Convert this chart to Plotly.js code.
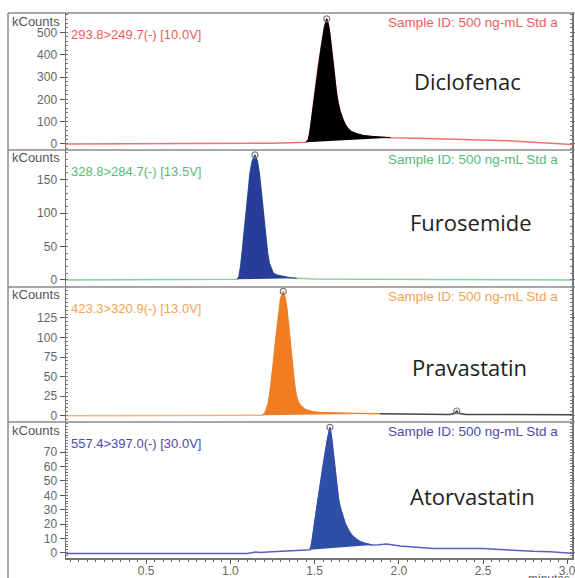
<!DOCTYPE html>
<html>
<head>
<meta charset="utf-8">
<script src="https://cdn.plot.ly/plotly-3.0.1.min.js"></script>
<style>html,body{margin:0;padding:0;background:#fff;}#chart{width:575px;height:578px;}</style>
</head>
<body>
<div id="chart"></div>
<script>
// ---------- DATA ----------
const compounds = ["Diclofenac", "Furosemide", "Pravastatin", "Atorvastatin"];
const transitions = ["293.8>249.7(-) [10.0V]", "328.8>284.7(-) [13.5V]", "423.3>320.9(-) [13.0V]", "557.4>397.0(-) [30.0V]"];
const sampleLabel = "Sample ID: 500 ng-mL Std a";
const yTicks1 = [0, 100, 200, 300, 400, 500];
const yTicks2 = [0, 50, 100, 150];
const yTicks3 = [0, 25, 50, 75, 100, 125];
const yTicks4 = [0, 10, 20, 30, 40, 50, 60, 70];
const xTicks = [0.5, 1.0, 1.5, 2.0, 2.5, 3.0];

// Diclofenac (kCounts vs minutes)
const t1 = [0.02, 0.3, 0.6, 0.9, 1.1, 1.25, 1.35, 1.42, 1.45, 1.462, 1.47, 1.483, 1.495, 1.506, 1.52, 1.536, 1.548, 1.558, 1.572, 1.582, 1.591, 1.601, 1.611, 1.621, 1.631, 1.641, 1.651, 1.666, 1.681, 1.70, 1.72, 1.75, 1.79, 1.84, 1.9, 1.95, 2.05, 2.2, 2.35, 2.5, 2.65, 2.8, 2.95, 3.05];
const s1 = [0, 0, 0, 0, 1, 3, 5, 7, 8, 20, 45, 118, 195, 269, 345, 419, 475, 523, 561, 535, 494, 420, 343, 280, 224, 182, 149, 115, 89, 68, 55, 46, 38, 34, 31, 28, 27, 24, 22, 18, 14, 8, 2, -3];
// Furosemide
const t2 = [0.02, 0.3, 0.6, 0.9, 1.0, 1.04, 1.051, 1.061, 1.069, 1.077, 1.087, 1.097, 1.107, 1.116, 1.13, 1.146, 1.16, 1.172, 1.182, 1.192, 1.202, 1.211, 1.221, 1.231, 1.243, 1.255, 1.28, 1.314, 1.35, 1.394, 1.5, 1.8, 2.1, 2.4, 2.7, 3.05];
const s2 = [0, 0, 0, 0, 0.5, 1, 5, 20, 38, 60, 85, 110, 135, 159, 178, 187, 178, 159, 135, 110, 84, 60, 40, 25, 16, 10, 7, 5, 3.5, 2.5, 1.5, 1, 1, 0.5, 0, 0];
// Pravastatin
const t3 = [0.02, 0.3, 0.6, 0.9, 1.1, 1.19, 1.205, 1.215, 1.225, 1.235, 1.245, 1.255, 1.265, 1.275, 1.285, 1.298, 1.314, 1.326, 1.336, 1.345, 1.354, 1.362, 1.369, 1.38, 1.39, 1.40, 1.413, 1.443, 1.49, 1.532, 1.7, 1.888];
const s3 = [0, 0, 0, 0, 0, 0.5, 3.5, 9, 16, 30, 46, 67, 89, 110, 131, 150, 159, 150, 136, 117, 97, 78, 59, 42, 27, 19, 14, 8, 5, 4, 3, 2.5];
// Pravastatin, later part of the trace (drawn dark)
const t3b = [1.888, 2.0, 2.2, 2.3, 2.335, 2.344, 2.353, 2.4, 2.6, 2.8, 3.05];
const s3b = [2.5, 2, 1.5, 1.5, 3, 6, 3, 1.5, 1.5, 1, 1];
// Atorvastatin
const t4 = [0.02, 0.3, 0.6, 0.9, 1.1, 1.15, 1.18, 1.22, 1.3, 1.37, 1.43, 1.473, 1.483, 1.492, 1.502, 1.517, 1.532, 1.547, 1.562, 1.577, 1.591, 1.601, 1.611, 1.621, 1.631, 1.641, 1.651, 1.666, 1.681, 1.70, 1.72, 1.745, 1.77, 1.80, 1.839, 1.88, 1.928, 2.007, 2.1, 2.205, 2.3, 2.403, 2.5, 2.6, 2.70, 2.8, 2.898, 2.997, 3.05];
const s4 = [-0.5, -0.5, -0.5, -0.5, -0.5, 0.5, 0.1, 0.4, 0.8, 1.4, 1.8, 2, 6.5, 14, 23, 35, 46, 58, 69, 80, 87.4, 80, 69, 57, 46, 38, 32, 25.5, 20.5, 16, 12.3, 9.7, 7.7, 6.5, 5.4, 5.6, 6, 4.7, 4, 3, 3, 3, 3, 2.2, 1.4, 1, 0.7, -0.4, -0.5];

// integrated peak windows (minutes)
const peakStart = [1.45, 1.04, 1.19, 1.473];
const peakEnd = [1.95, 1.394, 1.888, 1.839];

// ---------- STYLE ----------
const times = [t1, t2, t3, t4];
const signals = [s1, s2, s3, s4];
const yTicks = [yTicks1, yTicks2, yTicks3, yTicks4];
const lineColors = ["#f07272", "#7fd49a", "#f9b27c", "#5c5cc2"];
const textColors = ["#ee5c5c", "#55bb77", "#f4a256", "#4b4bab"];
const fillColors = ["#000000", "#283c9c", "#f07d22", "#2f4fa6"];
const yRanges = [[-27, 587], [-10.5, 194.3], [-8.1, 164.6], [-3.7, 91.1]];
const minorSteps = [20, 10, 5, 2];
const panelTopsPx = [13, 150, 287, 422];
const plotBottomPx = 558, plotTopPx = 13, plotLeftPx = 66, plotRightPx = 572;
const namePosPx = [[467, 81], [471, 222], [469, 367], [472, 496]];

const W = 575, H = 578;
const xp = px => (px - plotLeftPx) / (plotRightPx - plotLeftPx);
const yp = py => (plotBottomPx - py) / (plotBottomPx - plotTopPx);

const traces = [];
const annotations = [];
const shapes = [];
const layout = {
  width: W, height: H,
  margin: {l: plotLeftPx, r: W - plotRightPx, t: plotTopPx, b: H - plotBottomPx, pad: 0},
  paper_bgcolor: "#ffffff", plot_bgcolor: "#ffffff",
  showlegend: false,
  font: {family: "Liberation Sans, Arial, sans-serif", color: "#666"},
  xaxis: {
    range: [0.0238, 3.0285], anchor: "y4", domain: [0, 1],
    tickmode: "array", tickvals: xTicks, ticktext: xTicks.map(v => v.toFixed(1)),
    ticks: "outside", ticklen: 4, tickwidth: 1, tickcolor: "#555",
    ticklabelstandoff: -3, ticklabeloverflow: "allow",
    showline: true, linecolor: "#777", linewidth: 1.5,
    showgrid: false, zeroline: false,
    tickfont: {size: 12, color: "#666"},
    minor: {dtick: 0.05, tick0: 0, ticks: "outside", ticklen: 2.5, tickcolor: "#666", showgrid: false}
  }
};

const domBounds = panelTopsPx.concat([plotBottomPx]);
for (let i = 0; i < 4; i++) {
  const ax = i === 0 ? "y" : "y" + (i + 1);
  const axName = i === 0 ? "yaxis" : "yaxis" + (i + 1);
  layout[axName] = {
    domain: [yp(domBounds[i + 1]), yp(domBounds[i])],
    range: yRanges[i], anchor: "x",
    tickmode: "array", tickvals: yTicks[i],
    ticks: "outside", ticklen: 5, tickwidth: 1, tickcolor: "#555",
    showline: true, linecolor: "#777", linewidth: 1.5, mirror: "ticks",
    showgrid: false, zeroline: false,
    tickfont: {size: 12, color: "#666"},
    minor: {dtick: minorSteps[i], tick0: 0, ticks: "inside", ticklen: 2, tickcolor: "#777", showgrid: false}
  };

  const t = times[i], s = signals[i];
  // full chromatogram line
  traces.push({x: t, y: s, xaxis: "x", yaxis: ax, type: "scatter", mode: "lines",
    line: {color: lineColors[i], width: 1.5}, hoverinfo: "skip"});
  if (i === 2) {
    traces.push({x: t3b, y: s3b, xaxis: "x", yaxis: ax, type: "scatter", mode: "lines",
      line: {color: "#444", width: 1.5}, hoverinfo: "skip"});
  }
  // integrated peak fill
  const px = [], py = [];
  for (let k = 0; k < t.length; k++) {
    if (t[k] >= peakStart[i] - 1e-9 && t[k] <= peakEnd[i] + 1e-9) { px.push(t[k]); py.push(s[k]); }
  }
  traces.push({x: px, y: py, xaxis: "x", yaxis: ax, type: "scatter", mode: "lines",
    fill: "toself", fillcolor: fillColors[i], line: {color: fillColors[i], width: 1}, hoverinfo: "skip"});
  // apex marker
  let im = 0;
  for (let k = 1; k < s.length; k++) if (s[k] > s[im]) im = k;
  const mx = [t[im]], my = [s[im]];
  if (i === 2) {
    let ib = 0;
    for (let k = 1; k < s3b.length; k++) if (s3b[k] > s3b[ib]) ib = k;
    mx.push(t3b[ib]); my.push(s3b[ib]);
  }
  traces.push({x: mx, y: my, xaxis: "x", yaxis: ax, type: "scatter", mode: "markers",
    marker: {symbol: "circle-open", size: 6, color: "#777", line: {width: 1.2, color: "#777"}},
    cliponaxis: false, hoverinfo: "skip"});

  const top = panelTopsPx[i];
  annotations.push({text: "kCounts", xref: "paper", yref: "paper", x: xp(10), y: yp(top + 8),
    xanchor: "left", yanchor: "middle", showarrow: false,
    font: {family: "Liberation Sans, Arial, sans-serif", size: 13, color: "#555"}});
  annotations.push({text: transitions[i], xref: "paper", yref: "paper", x: xp(69), y: yp(top + 21.5),
    xanchor: "left", yanchor: "middle", showarrow: false,
    font: {family: "Liberation Sans, Arial, sans-serif", size: 13, color: textColors[i]}});
  annotations.push({text: sampleLabel, xref: "paper", yref: "paper", x: xp(560), y: yp(top + 9.5),
    xanchor: "right", yanchor: "middle", showarrow: false,
    font: {family: "Liberation Sans, Arial, sans-serif", size: 13.5, color: textColors[i]}});
  annotations.push({text: compounds[i], xref: "paper", yref: "paper", x: xp(namePosPx[i][0]), y: yp(namePosPx[i][1]),
    xanchor: "center", yanchor: "middle", showarrow: false,
    font: {family: "Open Sans, Noto Sans, sans-serif", size: 22, color: "#222"}});

  // panel separator / frame top line
  shapes.push({type: "line", xref: "paper", yref: "paper", x0: xp(8), x1: xp(W), y0: yp(top), y1: yp(top),
    line: {color: "#8a8a8a", width: 1.5}});
}
// outer left frame line
shapes.push({type: "line", xref: "paper", yref: "paper", x0: xp(8), x1: xp(8), y0: yp(H), y1: yp(13),
  line: {color: "#8a8a8a", width: 1.5}});
annotations.push({text: "minutes", xref: "paper", yref: "paper", x: xp(549), y: yp(570),
  xanchor: "center", yanchor: "top", showarrow: false,
  font: {family: "Liberation Sans, Arial, sans-serif", size: 12, color: "#666"}});

layout.annotations = annotations;
layout.shapes = shapes;

Plotly.newPlot("chart", traces, layout, {displayModeBar: false, staticPlot: true});
</script>
</body>
</html>
